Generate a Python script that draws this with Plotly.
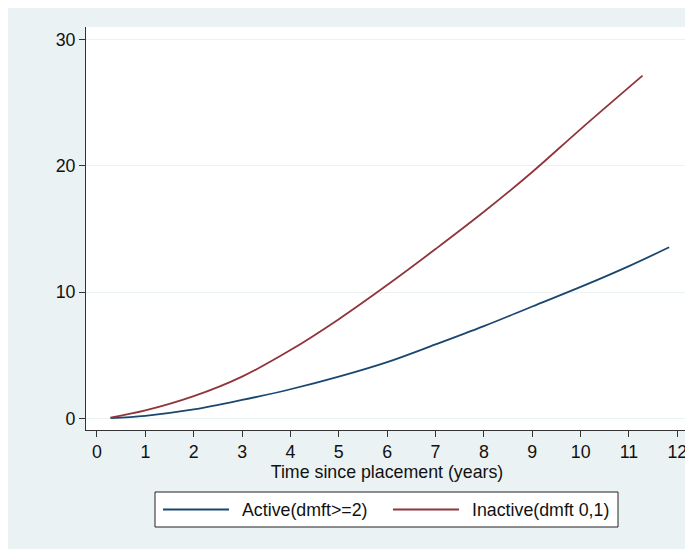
import plotly.graph_objects as go

# Data
active_x = [0.28, 1, 2, 3, 4, 5, 6, 7, 8, 9, 10, 11, 11.83]
active_y = [0.02, 0.2, 0.7, 1.45, 2.3, 3.3, 4.45, 5.85, 7.3, 8.85, 10.4, 12.05, 13.54]
inactive_x = [0.28, 1, 2, 3, 4, 5, 6, 7, 8, 9, 10, 11.28]
inactive_y = [0.05, 0.62, 1.75, 3.3, 5.4, 7.85, 10.55, 13.4, 16.35, 19.5, 22.9, 27.13]
x_ticks = list(range(0, 13))
y_ticks = [0, 10, 20, 30]
series_names = ["Active(dmft>=2)", "Inactive(dmft 0,1)"]
series_colors = ["#1A476F", "#90353B"]

# page body has an 8px margin, so the figure starts at (8, 8) in the window
OFF = 8
W, H = 685, 541
L, R, T, B = 78, 5, 19, 119
BG = "#EAF2F3"
FONT = "Liberation Sans, Arial, sans-serif"
FS = 17.8

pw = W - L - R
ph = H - T - B


def px(x):
    return (x - OFF - L) / pw


def py(y):
    return (H - B - (y - OFF)) / ph


fig = go.Figure()
for xs, ys, nm, col in [(active_x, active_y, series_names[0], series_colors[0]),
                        (inactive_x, inactive_y, series_names[1], series_colors[1])]:
    fig.add_trace(go.Scatter(x=xs, y=ys, mode="lines", name=nm,
                             line=dict(color=col, width=1.8, shape="spline")))

# legend box (positions in window pixels)
fig.add_shape(type="rect", xref="paper", yref="paper",
              x0=px(155), x1=px(618), y0=py(527), y1=py(492),
              fillcolor="white", line=dict(color="#222222", width=1))
leg_y = 509.5
for (lx0, lx1, tx), nm, col in zip([(163, 229, 240), (393, 459, 470)], series_names, series_colors):
    fig.add_shape(type="line", xref="paper", yref="paper",
                  x0=px(lx0), x1=px(lx1), y0=py(leg_y), y1=py(leg_y),
                  line=dict(color=col, width=1.8))
    fig.add_annotation(xref="paper", yref="paper", x=px(tx), y=py(leg_y),
                       xanchor="left", yanchor="middle", showarrow=False,
                       text=nm, font=dict(family=FONT, size=FS, color="#111111"))

fig.update_layout(
    template="none",
    width=W, height=H,
    margin=dict(l=L, r=R, t=T, b=B, autoexpand=False),
    paper_bgcolor=BG, plot_bgcolor="white",
    font=dict(family=FONT, size=FS, color="#111111"),
    showlegend=False,
    xaxis=dict(range=[-0.227, 12.22], tickvals=x_ticks, showgrid=False, zeroline=False,
               automargin=False,
               showline=True, linecolor="#333333", linewidth=1,
               ticks="outside", ticklen=6, tickcolor="#333333",
               tickfont=dict(family=FONT, size=FS, color="#111111"),
               title=dict(text="Time since placement (years)", standoff=0,
                          font=dict(family=FONT, size=FS, color="#111111"))),
    yaxis=dict(range=[-0.926, 30.98], tickvals=y_ticks, showgrid=True, gridcolor=BG,
               gridwidth=1, zeroline=False, automargin=False,
               showline=True, linecolor="#333333", linewidth=1,
               ticks="outside", ticklen=6, tickcolor="#333333",
               tickfont=dict(family=FONT, size=FS, color="#111111")),
)

fig.write_html("out.html")
